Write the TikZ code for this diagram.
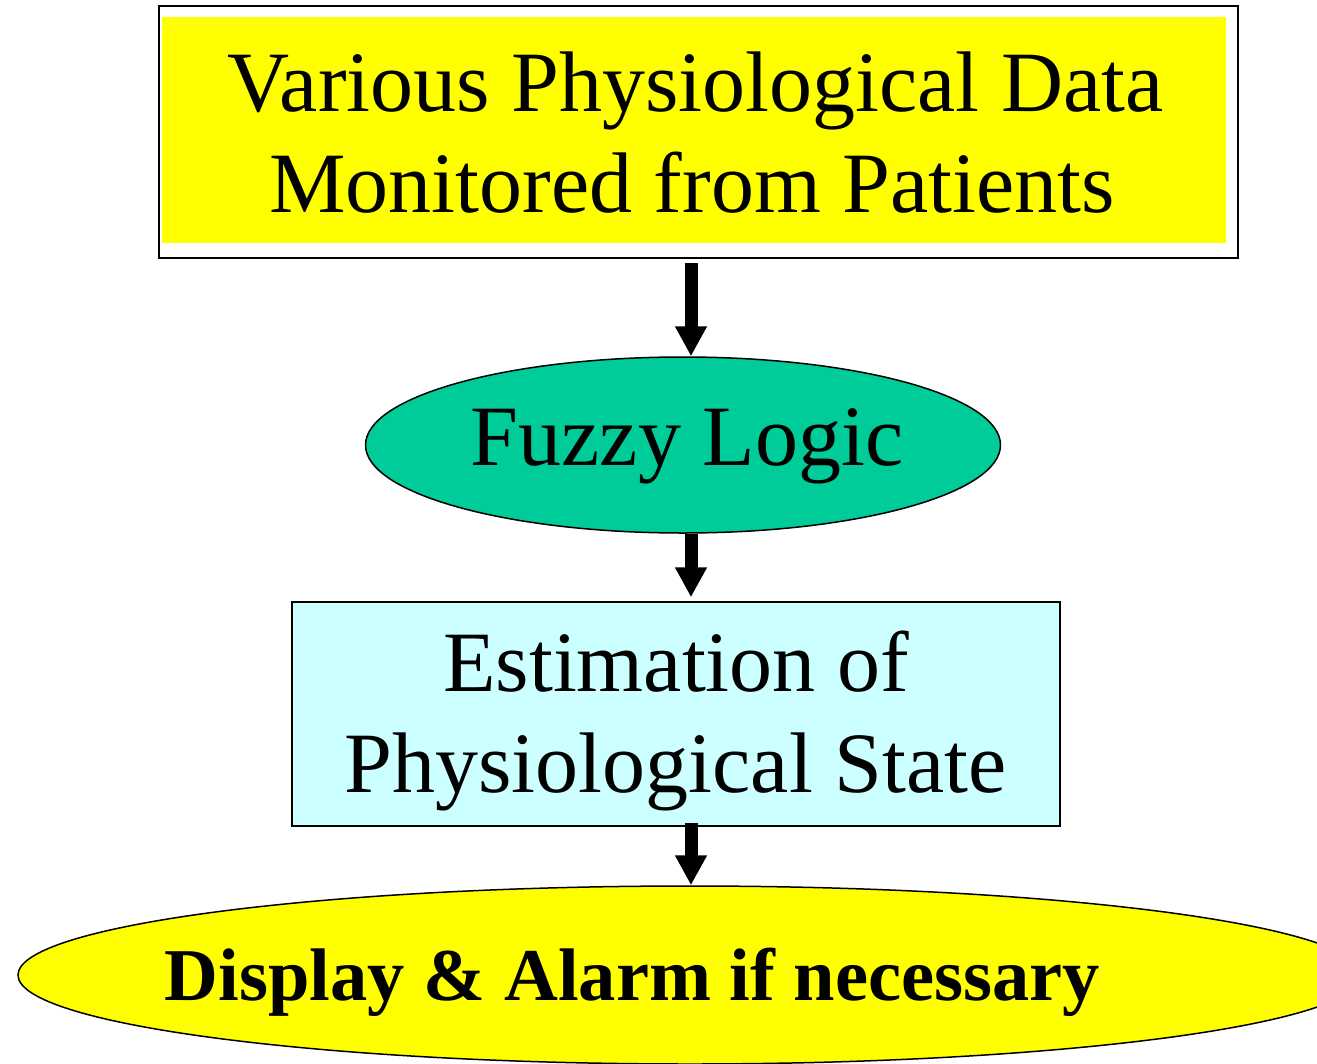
\documentclass[tikz,border=0pt]{standalone}
\usepackage{fontspec}
\setmainfont{Liberation Serif}
\usetikzlibrary{shapes.geometric,arrows.meta}
\definecolor{boxyellow}{HTML}{FFFF00}
\definecolor{fuzzygreen}{HTML}{00CC99}
\definecolor{estcyan}{HTML}{CCFFFF}
\tikzset{
  bigtext/.style={font=\fontsize{86}{101}\selectfont, inner sep=0pt, anchor=base},
  boldtext/.style={font=\fontsize{74.5}{88}\selectfont\bfseries, inner sep=0pt, anchor=base},
  flowarrow/.style={line width=13pt, -{Triangle[width=30pt,length=30pt]}},
  outline/.style={draw=black, line width=1.5pt, inner sep=0pt},
}
\begin{document}
\begin{tikzpicture}[x=1pt,y=-1pt]
\clip (0,0) rectangle (1317,1063);
\fill[white] (0,0) rectangle (1317,1063);
% top box
\node[draw=black, line width=2pt, fill=white, rectangle, minimum width=1079pt, minimum height=252pt, inner sep=0pt] (top) at (698.5,132) {};
\fill[boxyellow] (162,17) rectangle (1226,243);
\node[bigtext] (topA) at (695.5,111) {Various Physiological Data};
\node[bigtext] (topB) at (692,212) {Monitored from Patients};
% fuzzy logic ellipse
\node[outline, ellipse, fill=fuzzygreen, minimum width=635pt, minimum height=176pt] (fuzzy) at (683,445) {};
\node[bigtext] (fuzzyT) at (687,465) {Fuzzy Logic};
% estimation box
\node[outline, rectangle, fill=estcyan, minimum width=768pt, minimum height=224pt] (est) at (676,714) {};
\node[bigtext] (estA) at (676,691) {Estimation of};
\node[bigtext] (estB) at (675.5,792) {Physiological State};
% display ellipse
\node[outline, ellipse, fill=boxyellow, minimum width=1344pt, minimum height=178pt] (disp) at (690,975) {};
\node[boldtext] (dispT) at (632.5,1000) {Display \& Alarm if necessary};
% arrows
\coordinate (axis) at (691,0);
\draw[flowarrow, shorten <=4pt] (top.south -| axis) -- (fuzzy.north -| axis);
\draw[flowarrow, shorten >=4pt] (fuzzy.south -| axis) -- (est.north -| axis);
\draw[flowarrow, shorten <=-4pt] (est.south -| axis) -- (disp.north -| axis);
\end{tikzpicture}
\end{document}
